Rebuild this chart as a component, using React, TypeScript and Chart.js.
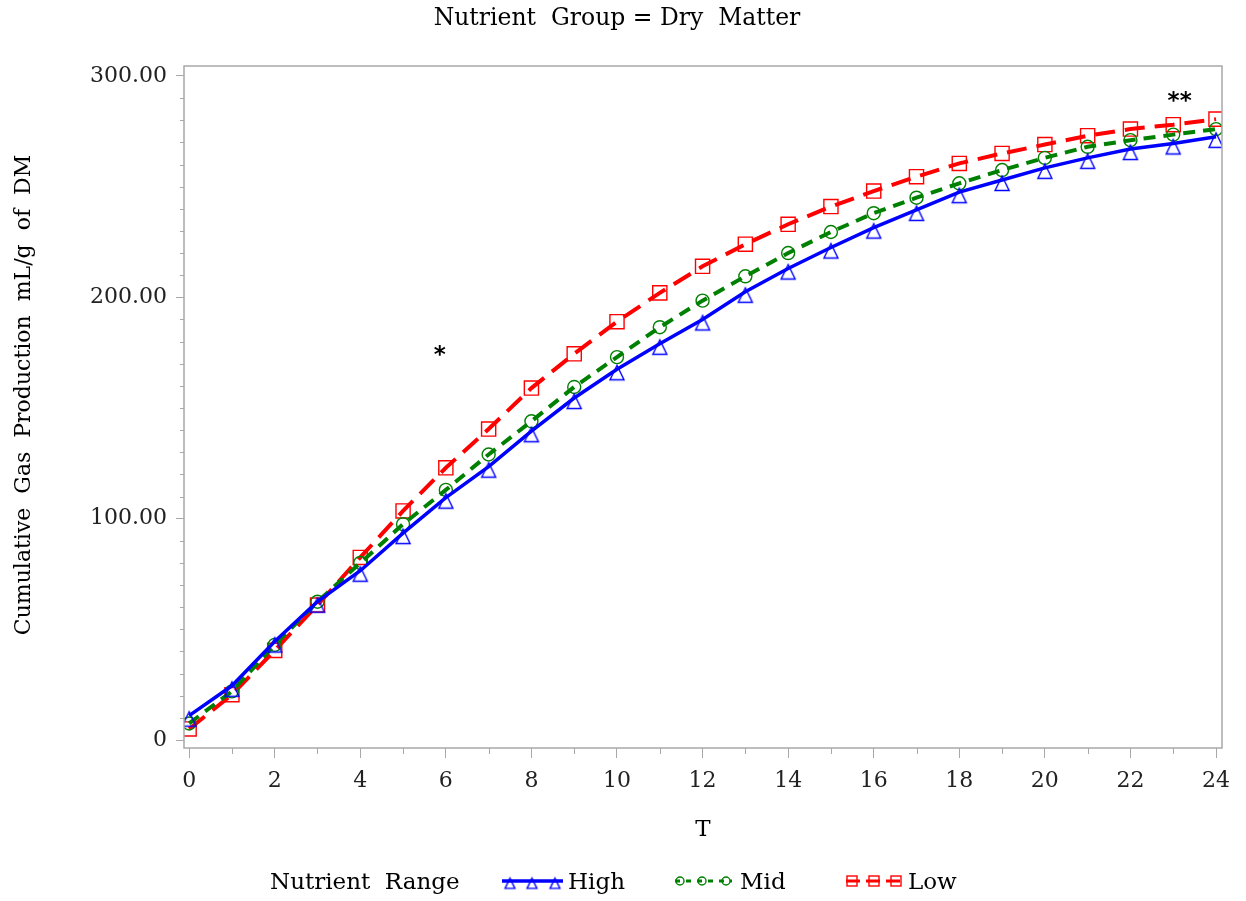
import React, { useEffect, useRef } from "react";
import { Chart, registerables } from "chart.js";

Chart.register(...registerables);

// ---------- data ----------
const hours = [0, 1, 2, 3, 4, 5, 6, 7, 8, 9, 10, 11, 12, 13, 14, 15, 16, 17, 18, 19, 20, 21, 22, 23, 24];
const highValues = [11, 24.5, 44.5, 62.5, 76.5, 93.5, 109.5, 123.5, 139.5, 154.5, 167.5, 179, 190, 202.5, 213, 222.5, 231.5, 239.5, 247.5, 253, 258.5, 263, 267, 269.5, 272.5];
const midValues = [7.5, 22, 43, 62.5, 80, 97.5, 113, 129, 144, 159.5, 173, 186.5, 198.5, 209.5, 220, 229.5, 238, 245, 251.5, 257.5, 263, 268, 271, 273.5, 276];
const lowValues = [5, 20.5, 40.5, 61, 82.5, 103.5, 123, 140.5, 159, 174.5, 189, 202, 214, 224, 233, 241, 248, 254.5, 260.5, 265, 269, 273, 276, 278, 280.5];

const xTickValues = [0, 2, 4, 6, 8, 10, 12, 14, 16, 18, 20, 22, 24];
const xMinorTickValues = [1, 3, 5, 7, 9, 11, 13, 15, 17, 19, 21, 23];
const yTickValues = [0, 100, 200, 300];
const yMinorTickValues = [10, 20, 30, 40, 50, 60, 70, 80, 90, 110, 120, 130, 140, 150, 160, 170, 180, 190, 210, 220, 230, 240, 250, 260, 270, 280, 290];

const starLabels = ["*", "**"];
const starHours = [5.86, 23.15];
const starValues = [175.8, 290.5];

const titleText = "Nutrient  Group = Dry  Matter";
const xTitleText = "T";
const yTitleText = "Cumulative  Gas  Production  mL/g  of  DM";
const legendTitleText = "Nutrient  Range";
const seriesNames = ["High", "Mid", "Low"];

// ---------- styles ----------
const FONT = '"DejaVu Serif", "Liberation Serif", serif';
const BLUE = "#0000ff";
const GREEN = "#008000";
const RED = "#ff0000";
const FRAME = "#a8a8a8";

function makeTriangle(color: string, scale: number): HTMLCanvasElement {
  const c = document.createElement("canvas");
  const s = Math.round(30 * scale);
  c.width = s;
  c.height = s;
  const g = c.getContext("2d")!;
  const cx = s / 2;
  g.strokeStyle = color;
  g.lineWidth = 1.4;
  g.beginPath();
  g.moveTo(cx, cx - 4 * scale);
  g.lineTo(cx + 7 * scale, cx + 10.5 * scale);
  g.lineTo(cx - 7 * scale, cx + 10.5 * scale);
  g.closePath();
  g.stroke();
  return c;
}

const decorPlugin = {
  id: "decor",
  afterDraw(chart: any) {
    const { ctx, chartArea } = chart;
    const xs = chart.scales.x;
    const ys = chart.scales.y;
    ctx.save();

    // frame
    ctx.strokeStyle = FRAME;
    ctx.lineWidth = 1.5;
    ctx.strokeRect(chartArea.left, chartArea.top, chartArea.right - chartArea.left, chartArea.bottom - chartArea.top);

    // minor ticks
    ctx.lineWidth = 1;
    ctx.beginPath();
    xMinorTickValues.forEach((v) => {
      const px = Math.round(xs.getPixelForValue(v)) + 0.5;
      ctx.moveTo(px, chartArea.bottom);
      ctx.lineTo(px, chartArea.bottom + 6);
    });
    yMinorTickValues.forEach((v) => {
      const py = Math.round(ys.getPixelForValue(v)) + 0.5;
      ctx.moveTo(chartArea.left - 4, py);
      ctx.lineTo(chartArea.left, py);
    });
    ctx.stroke();

    // stars
    ctx.fillStyle = "#000";
    ctx.font = 'bold 23px "DejaVu Sans", sans-serif';
    ctx.textAlign = "center";
    ctx.textBaseline = "alphabetic";
    starLabels.forEach((lab, i) => {
      const m = ctx.measureText(lab);
      const px = xs.getPixelForValue(starHours[i]);
      const py = ys.getPixelForValue(starValues[i]);
      const off = (m.actualBoundingBoxAscent - m.actualBoundingBoxDescent) / 2;
      ctx.fillText(lab, px, py + off);
    });

    // title
    ctx.font = `23.5px ${FONT}`;
    ctx.fillStyle = "#000";
    ctx.textBaseline = "middle";
    ctx.textAlign = "center";
    ctx.fillText(titleText, 617, 19);

    ctx.font = `23px ${FONT}`;
    // x title
    ctx.fillText(xTitleText, (chartArea.left + chartArea.right) / 2, 830);

    // y title
    ctx.save();
    ctx.font = `22px ${FONT}`;
    ctx.translate(24, 395);
    ctx.rotate(-Math.PI / 2);
    ctx.fillText(yTitleText, 0, 0);
    ctx.restore();

    // legend
    const ly = 883;
    ctx.textAlign = "left";
    ctx.fillText(legendTitleText, 270, ly);

    // High sample
    ctx.strokeStyle = BLUE;
    ctx.lineWidth = 3.5;
    ctx.setLineDash([]);
    ctx.beginPath();
    ctx.moveTo(502, ly - 2);
    ctx.lineTo(563, ly - 2);
    ctx.stroke();
    const triSmall = makeTriangle(BLUE, 0.7);
    [510, 532, 555].forEach((x) => ctx.drawImage(triSmall, x - triSmall.width / 2, ly - 2 - triSmall.height / 2));
    ctx.fillText(seriesNames[0], 568, ly);

    // Mid sample
    ctx.strokeStyle = GREEN;
    ctx.lineWidth = 3;
    ctx.setLineDash([5, 6]);
    ctx.beginPath();
    ctx.moveTo(675, ly - 2);
    ctx.lineTo(732, ly - 2);
    ctx.stroke();
    ctx.setLineDash([]);
    ctx.lineWidth = 1.4;
    [680, 702, 726].forEach((x) => {
      ctx.beginPath();
      ctx.arc(x, ly - 2, 4, 0, Math.PI * 2);
      ctx.stroke();
    });
    ctx.fillText(seriesNames[1], 740, ly);

    // Low sample
    ctx.strokeStyle = RED;
    ctx.lineWidth = 3;
    ctx.setLineDash([14, 6]);
    ctx.beginPath();
    ctx.moveTo(846, ly - 2);
    ctx.lineTo(902, ly - 2);
    ctx.stroke();
    ctx.setLineDash([]);
    ctx.lineWidth = 1.4;
    [852, 874, 896].forEach((x) => ctx.strokeRect(x - 5, ly - 7, 10, 10));
    ctx.fillText(seriesNames[2], 908, ly);

    ctx.restore();
  },
};

export default function App() {
  const ref = useRef<HTMLCanvasElement>(null);

  useEffect(() => {
    document.body.style.margin = "0";
    const canvas = ref.current!;
    const tri = makeTriangle(BLUE, 1);
    const toPoints = (vals: number[]) => hours.map((h, i) => ({ x: h, y: vals[i] }));

    const chart = new Chart(canvas, {
      type: "line",
      data: {
        datasets: [
          {
            label: seriesNames[0],
            data: toPoints(highValues),
            borderColor: BLUE,
            borderWidth: 3.5,
            pointStyle: tri as any,
            pointRadius: 8,
            pointBorderColor: BLUE,
            pointBackgroundColor: "rgba(0,0,0,0)",
            tension: 0,
          },
          {
            label: seriesNames[1],
            data: toPoints(midValues),
            borderColor: GREEN,
            borderWidth: 4,
            borderDash: [12, 8],
            pointStyle: "circle",
            pointRadius: 6.5,
            pointBorderWidth: 1.4,
            pointBorderColor: GREEN,
            pointBackgroundColor: "rgba(0,0,0,0)",
            tension: 0,
          },
          {
            label: seriesNames[2],
            data: toPoints(lowValues),
            borderColor: RED,
            borderWidth: 4,
            borderDash: [20, 10],
            pointStyle: "rect",
            pointRadius: 10,
            pointBorderWidth: 1.4,
            pointBorderColor: RED,
            pointBackgroundColor: "rgba(0,0,0,0)",
            tension: 0,
          },
        ],
      },
      options: {
        responsive: false,
        animation: false,
        events: [],
        layout: { padding: { top: 66, right: 24, bottom: 0, left: 0 } },
        plugins: {
          legend: { display: false },
          title: { display: false },
          tooltip: { enabled: false },
        },
        scales: {
          x: {
            type: "linear",
            min: -0.12,
            max: 24.14,
            afterFit: (s: any) => {
              s.height = 153;
            },
            afterBuildTicks: (s: any) => {
              s.ticks = xTickValues.map((v) => ({ value: v }));
            },
            ticks: {
              font: { family: FONT, size: 22 },
              color: "#222",
              padding: 10,
              maxRotation: 0,
              autoSkip: false,
              callback: (v: any) => String(v),
            },
            grid: { drawOnChartArea: false, drawTicks: true, tickLength: 10, color: FRAME },
            border: { display: false },
          },
          y: {
            type: "linear",
            min: -3.6,
            max: 304.5,
            afterFit: (s: any) => {
              s.width = 184;
            },
            afterBuildTicks: (s: any) => {
              s.ticks = yTickValues.map((v) => ({ value: v }));
            },
            ticks: {
              font: { family: FONT, size: 22 },
              color: "#222",
              padding: 9,
              autoSkip: false,
              callback: (v: any) => (v === 0 ? "0" : Number(v).toFixed(2)),
            },
            grid: { drawOnChartArea: false, drawTicks: true, tickLength: 8, color: FRAME },
            border: { display: false },
          },
        },
      },
      plugins: [decorPlugin],
    } as any);

    return () => chart.destroy();
  }, []);

  return <canvas ref={ref} width={1246} height={901} style={{ display: "block" }} />;
}
